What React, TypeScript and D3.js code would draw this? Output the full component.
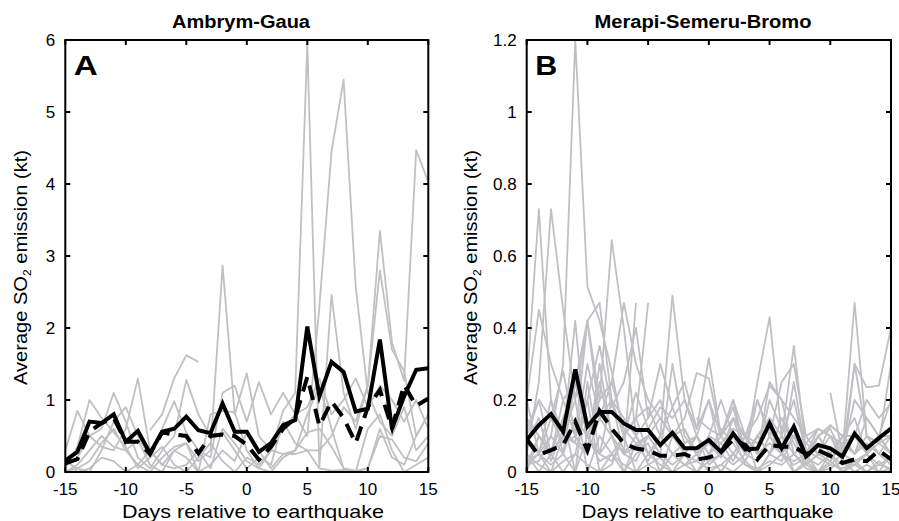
import React from "react";
import * as d3 from "d3";

type V = number | null;

const days: number[] = [-15, -14, -13, -12, -11, -10, -9, -8, -7, -6, -5, -4, -3, -2, -1, 0, 1, 2, 3, 4, 5, 6, 7, 8, 9, 10, 11, 12, 13, 14, 15];

const titles = ["Ambrym-Gaua", "Merapi-Semeru-Bromo"];
const panelLetters = ["A", "B"];
const xTicks = [-15, -10, -5, 0, 5, 10, 15];
const yTicksA = [0, 1, 2, 3, 4, 5, 6];
const yTicksB = [0, 0.2, 0.4, 0.6, 0.8, 1, 1.2];
const xLabel = "Days relative to earthquake";

// Panel A: mean (solid) and median (dashed)
const meanA: V[] = [0.16, 0.28, 0.7, 0.68, 0.8, 0.42, 0.57, 0.26, 0.56, 0.6, 0.77, 0.58, 0.54, 0.95, 0.56, 0.56, 0.28, 0.4, 0.65, 0.72, 2.02, 1.05, 1.53, 1.39, 0.84, 0.88, 1.84, 0.6, 1.05, 1.42, 1.44];
const medianA: V[] = [0.12, 0.18, 0.56, 0.68, 0.75, 0.42, 0.42, 0.25, 0.55, 0.52, 0.5, 0.26, 0.5, 0.52, 0.5, 0.38, 0.17, 0.35, 0.6, 0.75, 1.32, 0.64, 0.98, 0.75, 0.4, 0.9, 1.14, 0.61, 1.21, 0.92, 1.02];

const greyA1: V[] = [0.3, 0.85, 0.5, 0.35, 0.3, 0.6, 1.3, 0.3, 0.1, 0.3, 0.4, 0.15, 0.3, 2.87, 0.8, 1.37, 0.5, 0.3, 0.85, 1.1, 5.95, 0.07, 2.46, 1.1, 0.6, 1.2, 2.8, 1.7, 1.4, 0.5, 0.8];
const greyA2: V[] = [0.05, 0.35, 1.0, 0.75, 0.55, 0.35, 0.05, 0.2, 0.6, 0.98, 0.55, 0.3, 0.05, 0.6, 0.4, 0.15, 0.05, 0.3, 0.6, 0.8, 0.5, 2.3, 4.45, 5.45, 2.57, 1.1, 0.7, 0.5, 0.9, 0.3, 0.5];
const greyA3: V[] = [0.1, 0.2, 0.5, 0.6, 1.1, 0.7, 0.2, 0.05, 0.3, 0.5, 1.28, 0.8, 0.5, 0.55, 0.3, 0.05, 0.2, 0.1, 0.7, 0.4, 0.3, 0.3, 0.5, 0.9, 0.7, 1.2, 3.35, 1.8, 1.27, 4.47, 4.03];
const greyA4: V[] = [null, null, null, null, null, null, null, 0.58, 0.8, 1.3, 1.62, 1.53, null, null, null, null, null, null, null, null, null, null, null, null, null, null, null, null, null, null, null];
const greyA5: V[] = [0.0, 0.1, 0.3, 0.5, 0.35, 0.3, 0.45, 0.1, 0.0, 0.3, 0.2, 0.0, 0.1, 0.3, 0.15, 0.55, 0.3, 0.05, 0.25, 0.3, 0.55, 0.6, 0.35, 0.05, 0.02, 0.05, 0.5, 0.45, 0.2, 0.15, 0.4];
const greyA6: V[] = [0.0, 0.05, 0.15, 0.4, 0.6, 0.3, 0.1, 0.0, 0.2, 0.35, 0.4, 0.0, 0.8, 0.85, 0.83, 0.3, 0.05, 0.0, 0.2, 0.3, 0.8, 1.2, 0.6, 0.05, 0.0, 0.05, 0.6, 0.2, 0.1, 0.5, 0.8];
const greyA7: V[] = [0.2, 0.0, 0.05, 0.2, 0.15, 0.0, 0.1, 0.3, 0.1, 0.05, 0.1, 0.3, 0.2, 1.1, 1.2, 0.7, 1.25, 0.8, 1.1, 0.8, 0.9, 1.3, 0.8, 1.0, 1.3, 0.9, 1.2, 1.0, 0.7, 1.0, 0.6];
const greyA8: V[] = [0.15, 0.05, 0.0, 0.3, 0.7, 0.9, 0.5, 0.2, 0.35, 0.1, 0.0, 0.2, 0.4, 0.15, 0.0, 0.2, 0.1, 0.3, 0.25, 0.25, 0.3, 0.05, 0.02, 0.03, 0.0, 0.6, 0.8, 0.3, 0.0, 0.1, 0.2];

// Panel B
const meanB: V[] = [0.089, 0.13, 0.161, 0.112, 0.285, 0.126, 0.167, 0.167, 0.135, 0.117, 0.117, 0.075, 0.109, 0.066, 0.066, 0.089, 0.056, 0.107, 0.063, 0.065, 0.135, 0.066, 0.126, 0.043, 0.075, 0.066, 0.043, 0.107, 0.066, 0.094, 0.121];
const medianB: V[] = [0.09, 0.047, 0.061, 0.075, 0.14, 0.06, 0.17, 0.12, 0.08, 0.065, 0.06, 0.045, 0.045, 0.05, 0.035, 0.04, 0.055, 0.09, 0.075, 0.035, 0.075, 0.07, 0.07, 0.05, 0.06, 0.045, 0.025, 0.035, 0.03, 0.06, 0.035];

const greyB1: V[] = [0.24, 0.73, 0.2, 0.1, 0.42, 0.05, 0.3, 0.1, 0.05, 0.1, 0.02, 0.0, 0.05, 0.02, 0.03, 0.01, 0.02, 0.05, 0.02, 0.01, 0.03, 0.02, 0.05, 0.01, 0.0, 0.02, 0.01, 0.03, 0.0, 0.02, 0.01];
const greyB2: V[] = [0.05, 0.25, 0.73, 0.45, 0.2, 0.42, 0.15, 0.25, 0.12, 0.08, 0.1, 0.05, 0.3, 0.1, 0.05, 0.08, 0.04, 0.1, 0.05, 0.03, 0.1, 0.05, 0.02, 0.04, 0.02, 0.05, 0.02, 0.3, 0.1, 0.05, 0.02];
const greyB3: V[] = [0.02, 0.05, 0.1, 0.3, 1.2, 0.515, 0.42, 0.28, 0.1, 0.15, 0.05, 0.1, 0.49, 0.2, 0.1, 0.05, 0.1, 0.18, 0.05, 0.25, 0.43, 0.1, 0.35, 0.06, 0.04, 0.02, 0.05, 0.47, 0.1, 0.08, 0.05];
const greyB4: V[] = [0.1, 0.05, 0.2, 0.05, 0.15, 0.1, 0.2, 0.644, 0.4, 0.1, 0.15, 0.2, 0.1, 0.15, 0.275, 0.26, 0.1, 0.05, 0.1, 0.05, 0.2, 0.12, 0.1, 0.05, 0.1, 0.13, 0.1, 0.1, 0.05, 0.1, 0.2];
const greyB5: V[] = [0.15, 0.1, 0.05, 0.2, 0.1, 0.42, 0.47, 0.2, 0.05, 0.47, null, null, null, 0.05, 0.1, 0.02, 0.05, 0.15, 0.1, 0.05, 0.25, 0.2, 0.05, 0.02, 0.1, 0.05, 0.0, 0.02, 0.05, 0.1, 0.05];
const greyB6: V[] = [0.02, 0.1, 0.05, 0.15, 0.25, 0.1, 0.05, 0.03, 0.1, 0.15, 0.47, null, null, null, 0.15, 0.12, 0.1, 0.2, 0.05, 0.1, 0.05, 0.1, 0.2, 0.05, 0.12, 0.1, 0.05, 0.2, 0.15, 0.1, 0.05];
const greyB7: V[] = [0.02, 0.03, 0.1, 0.05, 0.25, 0.1, 0.05, 0.2, 0.15, 0.1, 0.05, 0.1, 0.18, 0.08, 0.1, 0.05, 0.12, 0.08, 0.03, 0.1, 0.05, 0.15, 0.08, 0.02, 0.05, 0.1, 0.03, 0.02, 0.05, 0.02, 0.04];
const greyB8: V[] = [0.2, 0.05, 0.0, 0.1, 0.2, 0.0, 0.1, 0.05, 0.0, 0.08, 0.03, 0.1, 0.05, 0.02, 0.0, 0.03, 0.05, 0.1, 0.02, 0.0, 0.05, 0.03, 0.1, 0.05, 0.0, 0.03, 0.0, 0.02, 0.0, 0.03, 0.0];
const greyB9: V[] = [0.0, 0.1, 0.05, 0.15, 0.0, 0.25, 0.05, 0.1, 0.0, 0.05, 0.08, 0.0, 0.1, 0.05, 0.1, 0.2, 0.05, 0.15, 0.1, 0.2, 0.1, 0.25, 0.3, 0.1, 0.05, 0.13, 0.1, 0.15, 0.05, 0.1, 0.1];
const greyB10: V[] = [0.05, 0.0, 0.05, 0.0, 0.05, 0.2, 0.0, 0.05, 0.1, 0.0, 0.05, 0.02, 0.0, 0.05, 0.0, 0.05, 0.0, 0.05, 0.1, 0.0, 0.05, 0.1, 0.0, 0.03, 0.0, 0.05, 0.0, 0.03, 0.05, 0.0, 0.05];
const greyB11: V[] = [0.08, 0.15, 0.03, 0.12, 0.08, 0.3, 0.15, 0.2, 0.1, 0.22, 0.12, 0.18, 0.15, 0.2, 0.12, 0.316, 0.1, 0.2, 0.1, 0.15, 0.24, 0.2, 0.15, 0.1, 0.12, null, null, null, null, null, null];
const greyB12: V[] = [null, null, null, null, null, null, null, null, null, null, null, null, null, null, null, null, null, null, null, null, null, null, null, null, null, 0.22, 0.05, 0.3, 0.235, 0.24, 0.4];
const greyB13: V[] = [0.12, 0.2, 0.05, 0.1, 0.08, 0.05, 0.15, 0.1, 0.05, 0.03, 0.1, 0.15, 0.1, 0.12, 0.05, 0.1, 0.2, 0.1, 0.05, 0.2, 0.1, 0.05, 0.1, 0.02, 0.05, 0.03, 0.08, 0.1, 0.2, 0.15, 0.19];
const greyB14: V[] = [0.03, 0.05, 0.02, 0.05, 0.0, 0.1, 0.03, 0.05, 0.02, 0.0, 0.02, 0.04, 0.0, 0.02, 0.05, 0.0, 0.02, 0.0, 0.03, 0.0, 0.02, 0.05, 0.0, 0.02, 0.0, 0.01, 0.03, 0.0, 0.02, 0.0, 0.01];
const greyB15: V[] = [0.1, 0.05, 0.15, 0.08, 0.1, 0.05, 0.25, 0.1, 0.05, 0.07, 0.1, 0.05, 0.02, 0.05, 0.03, 0.1, 0.05, 0.02, 0.05, 0.1, 0.15, 0.05, 0.25, 0.05, 0.1, 0.05, 0.1, 0.05, 0.15, 0.1, 0.05];
const greyB16: V[] = [0.05, 0.02, 0.0, 0.03, 0.05, 0.02, 0.0, 0.02, 0.1, 0.15, 0.18, 0.1, 0.05, 0.08, 0.1, 0.05, 0.08, 0.03, 0.1, 0.05, 0.08, 0.05, 0.03, 0.05, 0.1, 0.12, 0.05, 0.03, 0.05, 0.08, 0.3];
const greyB17: V[] = [0.2, 0.45, 0.3, 0.2, 0.25, 0.42, 0.2, 0.25, 0.47, 0.3, 0.2, 0.15, 0.1, 0.12, 0.05, 0.1, 0.08, 0.12, 0.1, 0.08, 0.12, 0.05, 0.1, 0.08, 0.05, 0.03, 0.1, 0.05, 0.08, 0.05, 0.1];
const greyB18: V[] = [0.1, 0.2, 0.15, 0.28, 0.1, 0.2, 0.35, 0.18, 0.25, 0.4, 0.15, 0.3, 0.18, 0.25, 0.12, 0.2, 0.1, 0.15, 0.05, 0.1, 0.15, 0.1, 0.05, 0.08, 0.12, 0.1, 0.08, 0.05, 0.1, 0.08, 0.1];

const greysA = [greyA1, greyA2, greyA3, greyA4, greyA5, greyA6, greyA7, greyA8];
const greysB = [greyB1, greyB2, greyB3, greyB4, greyB5, greyB6, greyB7, greyB8, greyB9, greyB10, greyB11, greyB12, greyB13, greyB14, greyB15, greyB16, greyB17, greyB18];

const FONT = "'Liberation Sans', Arial, Helvetica, sans-serif";
const GREY = "#c0c0c4";

type PanelProps = {
  idx: number;
  left: number;
  right: number;
  titleX: number;
  titleLen: number;
  letterLen: number;
  xLabelX: number;
  xLabelLen: number;
  yLabelX: number;
  yMax: number;
  yTicks: number[];
  greys: V[][];
  mean: V[];
  median: V[];
};

function Panel(p: PanelProps) {
  const top = 40;
  const bottom = 472;
  const x = d3.scaleLinear().domain([-15, 15]).range([p.left, p.right]);
  const y = d3.scaleLinear().domain([0, p.yMax]).range([bottom, top]);
  const line = d3
    .line<V>()
    .defined((d) => d !== null)
    .x((_, i) => x(days[i]))
    .y((d) => y(d as number));
  const clipId = `clip${p.idx}`;
  const tickLen = 5;
  return (
    <g>
      <defs>
        <clipPath id={clipId}>
          <rect x={p.left} y={top} width={p.right - p.left} height={bottom - top} />
        </clipPath>
      </defs>
      <g clipPath={`url(#${clipId})`}>
        {p.greys.map((s, i) => (
          <path key={i} d={line(s) || ""} fill="none" stroke={GREY} strokeWidth={1.8} strokeLinejoin="round" />
        ))}
        <path d={line(p.median) || ""} fill="none" stroke="#000" strokeWidth={4} strokeDasharray="15 9" strokeLinejoin="miter" />
        <path d={line(p.mean) || ""} fill="none" stroke="#000" strokeWidth={4} strokeLinejoin="miter" />
      </g>
      <rect x={p.left} y={top} width={p.right - p.left} height={bottom - top} fill="none" stroke="#000" strokeWidth={2} />
      {xTicks.map((t) => (
        <g key={`xt${t}`}>
          <line x1={x(t)} x2={x(t)} y1={bottom} y2={bottom - tickLen} stroke="#000" strokeWidth={2} />
          <line x1={x(t)} x2={x(t)} y1={top} y2={top + tickLen} stroke="#000" strokeWidth={2} />
          <text x={x(t)} y={495} textAnchor="middle" fontFamily={FONT} fontSize={17} fill="#000">
            {t}
          </text>
        </g>
      ))}
      {p.yTicks.map((t) => (
        <g key={`yt${t}`}>
          <line x1={p.left} x2={p.left + tickLen} y1={y(t)} y2={y(t)} stroke="#000" strokeWidth={2} />
          <line x1={p.right} x2={p.right - tickLen} y1={y(t)} y2={y(t)} stroke="#000" strokeWidth={2} />
          <text x={p.left - 10} y={y(t) + 6} textAnchor="end" fontFamily={FONT} fontSize={17} fill="#000">
            {String(t)}
          </text>
        </g>
      ))}
      <text
        x={p.titleX - p.titleLen / 2}
        y={28}
        textLength={p.titleLen}
        lengthAdjust="spacingAndGlyphs"
        fontFamily={FONT}
        fontSize={18}
        fontWeight="bold"
        fill="#000"
      >
        {titles[p.idx]}
      </text>
      <text
        x={p.left + 8.5}
        y={75}
        textLength={p.letterLen}
        lengthAdjust="spacingAndGlyphs"
        fontFamily={FONT}
        fontSize={28}
        fontWeight="bold"
        fill="#000"
      >
        {panelLetters[p.idx]}
      </text>
      <text
        x={p.xLabelX - p.xLabelLen / 2}
        y={518}
        textLength={p.xLabelLen}
        lengthAdjust="spacingAndGlyphs"
        fontFamily={FONT}
        fontSize={18.5}
        fill="#000"
      >
        {xLabel}
      </text>
      <text
        transform={`translate(${p.yLabelX},385) rotate(-90)`}
        x={0}
        y={0}
        textLength={235}
        lengthAdjust="spacingAndGlyphs"
        fontFamily={FONT}
        fontSize={18.5}
        fill="#000"
      >
        Average SO
        <tspan fontSize={11} dy={4}>2</tspan>
        <tspan dy={-4}> emission (kt)</tspan>
      </text>
    </g>
  );
}

export default function App() {
  return (
    <svg
      width={899}
      height={521}
      viewBox="0 0 899 521"
      style={{ position: "absolute", left: 0, top: 0, background: "#fff" }}
    >
      <rect x={0} y={0} width={899} height={521} fill="#fff" />
      <Panel
        idx={0}
        left={65.3}
        right={428.3}
        titleX={241}
        titleLen={138}
        letterLen={24}
        xLabelX={253}
        xLabelLen={262}
        yLabelX={27}
        yMax={6}
        yTicks={yTicksA}
        greys={greysA}
        mean={meanA}
        median={medianA}
      />
      <Panel
        idx={1}
        left={526.7}
        right={891}
        titleX={703}
        titleLen={217}
        letterLen={22}
        xLabelX={707.5}
        xLabelLen={252}
        yLabelX={477}
        yMax={1.2}
        yTicks={yTicksB}
        greys={greysB}
        mean={meanB}
        median={medianB}
      />
    </svg>
  );
}
